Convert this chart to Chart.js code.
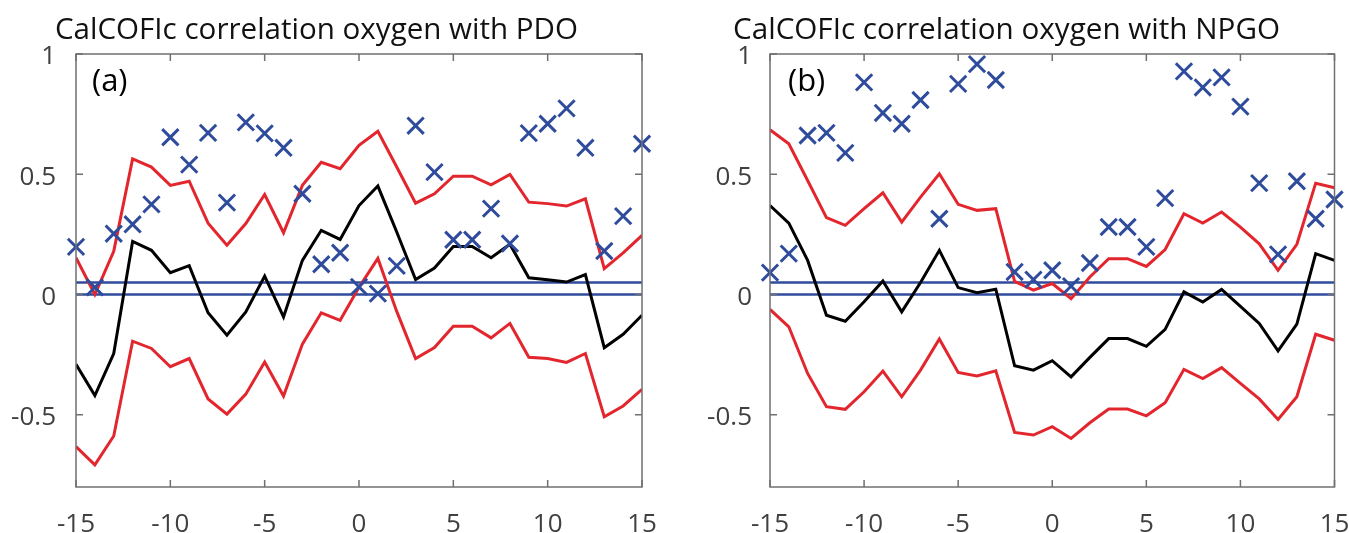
<!DOCTYPE html>
<html><head><meta charset="utf-8">
<script src="https://cdn.jsdelivr.net/npm/chart.js@4.4.1/dist/chart.umd.min.js"></script>
<style>
html,body{margin:0;padding:0;background:#fff;overflow:hidden}
#wrap{position:relative;width:1349px;height:533px;background:#fff}
.pane{position:absolute;top:0;height:533px}
#pa{left:0;width:674px}
#pb{left:674px;width:675px}
canvas{display:block}
</style></head><body>
<div id="wrap">
<div class="pane" id="pa"><canvas id="ca" width="674" height="533"></canvas></div>
<div class="pane" id="pb"><canvas id="cb" width="675" height="533"></canvas></div>
</div>
<script>
// ---- data ----
const lags = [-15,-14,-13,-12,-11,-10,-9,-8,-7,-6,-5,-4,-3,-2,-1,0,1,2,3,4,5,6,7,8,9,10,11,12,13,14,15];

const pdoUpper = [0.153,0.00,0.18,0.564,0.53,0.454,0.471,0.297,0.205,0.295,0.416,0.257,0.454,0.55,0.523,0.62,0.679,0.53,0.38,0.419,0.492,0.492,0.456,0.499,0.384,0.378,0.368,0.398,0.108,0.173,0.246];
const pdoLower = [-0.632,-0.708,-0.588,-0.194,-0.224,-0.30,-0.266,-0.434,-0.497,-0.414,-0.28,-0.422,-0.206,-0.076,-0.107,0.03,0.15,-0.07,-0.266,-0.22,-0.132,-0.132,-0.18,-0.12,-0.261,-0.266,-0.282,-0.245,-0.508,-0.463,-0.394];
const pdoCorr  = [-0.29,-0.42,-0.245,0.221,0.184,0.091,0.12,-0.076,-0.169,-0.072,0.077,-0.093,0.142,0.267,0.229,0.37,0.451,0.26,0.062,0.11,0.2,0.2,0.153,0.209,0.07,0.062,0.052,0.083,-0.221,-0.165,-0.086];
const pdoMarks = [0.198,0.03,0.253,0.292,0.375,0.654,0.54,0.672,0.382,0.716,0.67,0.61,0.419,0.126,0.174,0.032,0.004,0.119,0.702,0.509,0.228,0.228,0.357,0.212,0.671,0.71,0.774,0.61,0.181,0.326,0.627];

const npgoUpper = [0.685,0.627,0.474,0.32,0.288,0.357,0.423,0.301,0.405,0.502,0.375,0.35,0.357,0.055,0.018,0.046,-0.017,0.073,0.149,0.149,0.117,0.187,0.336,0.297,0.343,0.28,0.211,0.101,0.209,0.463,0.444];
const npgoLower = [-0.062,-0.134,-0.328,-0.466,-0.477,-0.404,-0.318,-0.425,-0.314,-0.185,-0.324,-0.338,-0.317,-0.573,-0.584,-0.549,-0.598,-0.533,-0.476,-0.476,-0.504,-0.45,-0.311,-0.349,-0.304,-0.369,-0.434,-0.519,-0.425,-0.165,-0.19];
const npgoCorr  = [0.37,0.297,0.142,-0.086,-0.111,-0.03,0.056,-0.072,0.05,0.184,0.029,0.008,0.022,-0.296,-0.314,-0.275,-0.342,-0.261,-0.183,-0.183,-0.215,-0.145,0.011,-0.031,0.021,-0.049,-0.12,-0.234,-0.123,0.17,0.142];
const npgoMarks = [0.091,0.17,0.661,0.672,0.589,0.882,0.755,0.71,0.809,0.315,0.876,0.958,0.892,0.094,0.062,0.101,0.035,0.131,0.281,0.281,0.198,0.401,0.928,0.861,0.903,0.781,0.463,0.167,0.471,0.315,0.395];

const refLevels = [0, 0.05];

const xTicks = [-15,-10,-5,0,5,10,15];
const xTickLabels = ['-15','-10','-5','0','5','10','15'];
const yTicks = [-0.5,0,0.5,1];
const yTickLabels = ['-0.5','0','0.5','1'];

const titles = ['CalCOFIc correlation oxygen with PDO','CalCOFIc correlation oxygen with NPGO'];
const panelTags = ['(a)','(b)'];

// ---- styles ----
const RED = '#e3262d', BLUE = '#2f4b9c', FRAME = '#707070', LABEL = '#404040';
const FONT = "'Open Sans', 'Noto Sans', sans-serif";

function pts(ys){ return lags.map((x,i)=>({x:x,y:ys[i]})); }
function hline(v){ return [{x:lags[0],y:v},{x:lags[lags.length-1],y:v}]; }

function framePlugin(cfg){
  return {
    id:'frame'+cfg.tag,
    afterDraw(chart){
      const ctx = chart.ctx, a = chart.chartArea;
      const xs = chart.scales.x, ys = chart.scales.y;
      ctx.save();
      ctx.strokeStyle = FRAME; ctx.lineWidth = 1.5;
      ctx.strokeRect(a.left, a.top, a.right-a.left, a.bottom-a.top);
      const tl = 7;
      ctx.beginPath();
      xTicks.forEach(v=>{
        const px = xs.getPixelForValue(v);
        ctx.moveTo(px, a.bottom); ctx.lineTo(px, a.bottom-tl);
        ctx.moveTo(px, a.top); ctx.lineTo(px, a.top+tl);
      });
      yTicks.forEach(v=>{
        const py = ys.getPixelForValue(v);
        ctx.moveTo(a.left, py); ctx.lineTo(a.left+tl, py);
        ctx.moveTo(a.right, py); ctx.lineTo(a.right-tl, py);
      });
      ctx.stroke();
      // title
      ctx.fillStyle = '#111';
      ctx.textBaseline = 'alphabetic';
      ctx.textAlign = 'left';
      ctx.font = '29px ' + FONT;
      const w = ctx.measureText(cfg.title).width;
      ctx.save();
      ctx.translate(cfg.titleX, cfg.titleBase);
      ctx.scale(cfg.titleW / w, 1);
      ctx.fillText(cfg.title, 0, 0);
      ctx.restore();
      // panel tag
      ctx.fillStyle = '#000';
      ctx.font = '31px ' + FONT;
      ctx.fillText(cfg.tag, cfg.tagX, cfg.tagBase);
      ctx.restore();
    }
  };
}

function makeChart(canvasId, upper, lower, corr, marks, cfg){
  const tickFont = {family: FONT, size: 26};
  return new Chart(document.getElementById(canvasId), {
    type: 'line',
    data: {
      datasets: [
        {data: pts(marks), showLine:false, pointStyle:'crossRot', pointRadius:11.5, pointHoverRadius:11.5,
         borderColor:BLUE, backgroundColor:BLUE, pointBorderWidth:3, borderWidth:3, clip:false},
        {data: pts(upper), borderColor:RED, borderWidth:3, pointRadius:0, tension:0, fill:false},
        {data: pts(lower), borderColor:RED, borderWidth:3, pointRadius:0, tension:0, fill:false},
        {data: pts(corr), borderColor:'#000', borderWidth:3, pointRadius:0, tension:0, fill:false},
        {data: hline(refLevels[0]), borderColor:BLUE, borderWidth:2.5, pointRadius:0, fill:false},
        {data: hline(refLevels[1]), borderColor:BLUE, borderWidth:2.5, pointRadius:0, fill:false}
      ]
    },
    options: {
      responsive:false, animation:false,
      events: [],
      layout:{padding:{top:54, left:0, right:cfg.padRight, bottom:0}},
      plugins:{legend:{display:false}, title:{display:false}, tooltip:{enabled:false}},
      scales:{
        x:{type:'linear', min:-15, max:15,
           afterBuildTicks(s){ s.ticks = xTicks.map(v=>({value:v})); },
           afterFit(s){ s.height = 46; s.paddingLeft = 0; s.paddingRight = 0; },
           grid:{display:false, drawTicks:false}, border:{display:false},
           ticks:{color:LABEL, font:tickFont, padding:22, autoSkip:false, maxRotation:0,
                  callback:(v,i)=>xTickLabels[i]}},
        y:{type:'linear', min:-0.8, max:1,
           afterBuildTicks(s){ s.ticks = yTicks.map(v=>({value:v})); },
           afterFit(s){ s.width = cfg.axisW; s.paddingTop = 0; s.paddingBottom = 0; },
           grid:{display:false, drawTicks:false}, border:{display:false},
           ticks:{color:LABEL, font:tickFont, padding:cfg.yPad, autoSkip:false, labelOffset:3,
                  callback:(v,i)=>yTickLabels[i]}}
      }
    },
    plugins:[framePlugin(cfg)]
  });
}

makeChart('ca', pdoUpper, pdoLower, pdoCorr, pdoMarks,
  {tag:panelTags[0], title:titles[0], titleX:55, titleW:523, titleBase:39, tagX:92, tagBase:91,
   padRight:32, axisW:76, yPad:20});
makeChart('cb', npgoUpper, npgoLower, npgoCorr, npgoMarks,
  {tag:panelTags[1], title:titles[1], titleX:59, titleW:547, titleBase:39, tagX:114, tagBase:91,
   padRight:13, axisW:96, yPad:18});
</script>
</body></html>
